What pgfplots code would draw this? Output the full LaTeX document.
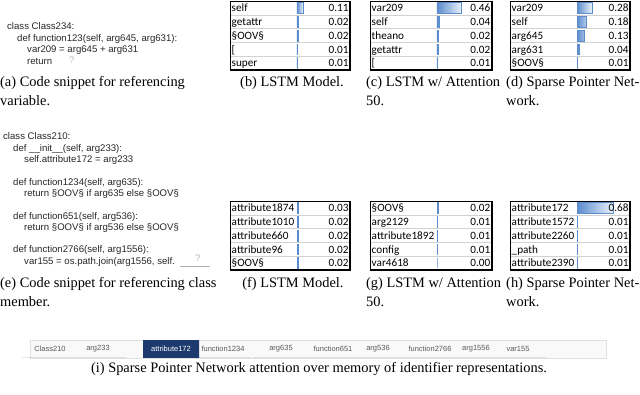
\documentclass[border=0pt]{standalone}
\usepackage{pgfplots}
\pgfplotsset{compat=1.18}
\usepackage{fontspec}
\setmainfont{Liberation Serif}
\newfontfamily\codefont{Liberation Sans}
\newfontfamily\calfont{Carlito}
\definecolor{barblue}{RGB}{91,140,205}
\definecolor{navy}{RGB}{28,58,110}
\pgfplotsset{
  tbl/.style={
    scale only axis, anchor=north west,
    height=69pt,
    ymin=0.5, ymax=5.5,
    xtick=\empty,
    ytick={1.5,2.5,3.5,4.5}, yticklabels={},
    major tick length=0pt,
    ymajorgrids, grid style={gray!35, line width=0.4pt},
    axis line style={black, line width=0.7pt},
    xbar, bar width=0.78,
    clip=false,
  },
  databar/.style={draw=barblue, left color=barblue, right color=barblue!12, line width=0.5pt},
}
\tikzset{
  nm/.style={anchor=base west, inner sep=0pt, yshift=-3.8pt, font=\calfont\fontsize{11.2}{13}\selectfont},
  vl/.style={anchor=base east, inner sep=0pt, yshift=-3.8pt, font=\calfont\fontsize{11.2}{13}\selectfont},
  captl/.style={anchor=base west, inner sep=0pt, font=\fontsize{14.4}{16}\selectfont},
  captc/.style={anchor=base, inner sep=0pt, font=\fontsize{14.4}{16}\selectfont},
  codeln/.style={anchor=base west, inner sep=0pt, font=\codefont\fontsize{9.6}{11}\selectfont, text=black!85},
  stripl/.style={anchor=center, inner sep=0pt, font=\codefont\fontsize{7.5}{9}\selectfont, text=black!65},
}
\begin{document}
\begin{tikzpicture}[x=1pt,y=-1pt]
\useasboundingbox (0,0) rectangle (640,395);

% ---------- (a) code snippet
\node[codeln] at (7,30) {class Class234:};
\node[codeln] at (17,41.4) {def function123(self, arg645, arg631):};
\node[codeln] at (27,52.8) {var209 = arg645 + arg631};
\node[codeln] at (27,64.2) {return};
\node[codeln, text=gray!55] at (69,63.5) {?};
\node[captl] at (0,87) {(a) Code snippet for referencing};
\node[captl] at (0,105.5) {variable.};

% ---------- (b) LSTM Model
\begin{axis}[tbl, at={(230pt,-1pt)}, width=120pt, xmin=-1.264, xmax=1]
\addplot[databar] coordinates {(0.11,5) (0.02,4) (0.02,3) (0.01,2) (0.01,1)};
\node[nm] at (axis cs:-1.235,5) {self};
\node[nm] at (axis cs:-1.235,4) {getattr};
\node[nm] at (axis cs:-1.235,3) {§OOV§};
\node[nm] at (axis cs:-1.235,2) {[};
\node[nm] at (axis cs:-1.235,1) {super};
\node[vl] at (axis cs:0.975,5) {0.11};
\node[vl] at (axis cs:0.975,4) {0.02};
\node[vl] at (axis cs:0.975,3) {0.02};
\node[vl] at (axis cs:0.975,2) {0.01};
\node[vl] at (axis cs:0.975,1) {0.01};
\draw[line width=1.5pt] (rel axis cs:0,0) -- (rel axis cs:1,0) -- (rel axis cs:1,1);
\end{axis}
\node[captc] at (292,87) {(b) LSTM Model.};

% ---------- (c) LSTM w/ Attention 50
\begin{axis}[tbl, at={(370pt,-1pt)}, width=122pt, xmin=-1.264, xmax=1.038]
\addplot[databar] coordinates {(0.46,5) (0.04,4) (0.02,3) (0.02,2) (0.01,1)};
\node[nm] at (axis cs:-1.235,5) {var209};
\node[nm] at (axis cs:-1.235,4) {self};
\node[nm] at (axis cs:-1.235,3) {theano};
\node[nm] at (axis cs:-1.235,2) {getattr};
\node[nm] at (axis cs:-1.235,1) {[};
\node[vl] at (axis cs:1.01,5) {0.46};
\node[vl] at (axis cs:1.01,4) {0.04};
\node[vl] at (axis cs:1.01,3) {0.02};
\node[vl] at (axis cs:1.01,2) {0.02};
\node[vl] at (axis cs:1.01,1) {0.01};
\draw[line width=1.5pt] (rel axis cs:0,0) -- (rel axis cs:1,0) -- (rel axis cs:1,1);
\end{axis}
\node[captl] at (366,87) {(c) LSTM w/ Attention};
\node[captl] at (366,105.5) {50.};

% ---------- (d) Sparse Pointer Network
\begin{axis}[tbl, at={(510pt,-1pt)}, width=120pt, xmin=-1.264, xmax=1]
\addplot[databar] coordinates {(0.28,5) (0.18,4) (0.13,3) (0.04,2) (0.01,1)};
\node[nm] at (axis cs:-1.235,5) {var209};
\node[nm] at (axis cs:-1.235,4) {self};
\node[nm] at (axis cs:-1.235,3) {arg645};
\node[nm] at (axis cs:-1.235,2) {arg631};
\node[nm] at (axis cs:-1.235,1) {§OOV§};
\node[vl] at (axis cs:0.975,5) {0.28};
\node[vl] at (axis cs:0.975,4) {0.18};
\node[vl] at (axis cs:0.975,3) {0.13};
\node[vl] at (axis cs:0.975,2) {0.04};
\node[vl] at (axis cs:0.975,1) {0.01};
\draw[line width=1.5pt] (rel axis cs:0,0) -- (rel axis cs:1,0) -- (rel axis cs:1,1);
\end{axis}
\node[captl] at (506,87) {(d) Sparse Pointer Net-};
\node[captl] at (506,105.5) {work.};

% ---------- (e) code snippet
\node[codeln] at (3,140) {class Class210:};
\node[codeln] at (13,151.3) {def \_\_init\_\_(self, arg233):};
\node[codeln] at (24,162.6) {self.attribute172 = arg233};
\node[codeln] at (13,185.2) {def function1234(self, arg635):};
\node[codeln] at (24,196.5) {return §OOV§ if arg635 else §OOV§};
\node[codeln] at (13,219.1) {def function651(self, arg536):};
\node[codeln] at (24,230.4) {return §OOV§ if arg536 else §OOV§};
\node[codeln] at (13,253) {def function2766(self, arg1556):};
\node[codeln] at (24,264.3) {var155 = os.path.join(arg1556, self.};
\draw[gray!60, line width=0.5pt] (180,266) -- (210,266);
\node[codeln, text=gray!55] at (195,262) {?};
\node[captl] at (0,288) {(e) Code snippet for referencing class};
\node[captl] at (0,306.5) {member.};

% ---------- (f) LSTM Model
\begin{axis}[tbl, at={(230pt,-201pt)}, width=120pt, xmin=-1.264, xmax=1]
\addplot[databar] coordinates {(0.03,5) (0.02,4) (0.02,3) (0.02,2) (0.02,1)};
\node[nm] at (axis cs:-1.235,5) {attribute1874};
\node[nm] at (axis cs:-1.235,4) {attribute1010};
\node[nm] at (axis cs:-1.235,3) {attribute660};
\node[nm] at (axis cs:-1.235,2) {attribute96};
\node[nm] at (axis cs:-1.235,1) {§OOV§};
\node[vl] at (axis cs:0.975,5) {0.03};
\node[vl] at (axis cs:0.975,4) {0.02};
\node[vl] at (axis cs:0.975,3) {0.02};
\node[vl] at (axis cs:0.975,2) {0.02};
\node[vl] at (axis cs:0.975,1) {0.02};
\draw[line width=1.5pt] (rel axis cs:0,0) -- (rel axis cs:1,0) -- (rel axis cs:1,1);
\end{axis}
\node[captc] at (293,288) {(f) LSTM Model.};

% ---------- (g) LSTM w/ Attention 50
\begin{axis}[tbl, at={(370pt,-201pt)}, width=122pt, xmin=-1.264, xmax=1.038]
\addplot[databar] coordinates {(0.02,5) (0.006,4) (0.006,3) (0.006,2) (0.0,1)};
\node[nm] at (axis cs:-1.235,5) {§OOV§};
\node[nm] at (axis cs:-1.235,4) {arg2129};
\node[nm] at (axis cs:-1.235,3) {attribute1892};
\node[nm] at (axis cs:-1.235,2) {config};
\node[nm] at (axis cs:-1.235,1) {var4618};
\node[vl] at (axis cs:1.01,5) {0.02};
\node[vl] at (axis cs:1.01,4) {0.01};
\node[vl] at (axis cs:1.01,3) {0.01};
\node[vl] at (axis cs:1.01,2) {0.01};
\node[vl] at (axis cs:1.01,1) {0.00};
\draw[line width=1.5pt] (rel axis cs:0,0) -- (rel axis cs:1,0) -- (rel axis cs:1,1);
\end{axis}
\node[captl] at (366,288) {(g) LSTM w/ Attention};
\node[captl] at (366,306.5) {50.};

% ---------- (h) Sparse Pointer Network
\begin{axis}[tbl, at={(510pt,-201pt)}, width=120pt, xmin=-1.264, xmax=1]
\addplot[databar] coordinates {(0.68,5) (0.012,4) (0.012,3) (0.005,2) (0.005,1)};
\node[nm] at (axis cs:-1.235,5) {attribute172};
\node[nm] at (axis cs:-1.235,4) {attribute1572};
\node[nm] at (axis cs:-1.235,3) {attribute2260};
\node[nm] at (axis cs:-1.235,2) {\_path};
\node[nm] at (axis cs:-1.235,1) {attribute2390};
\node[vl] at (axis cs:0.975,5) {0.68};
\node[vl] at (axis cs:0.975,4) {0.01};
\node[vl] at (axis cs:0.975,3) {0.01};
\node[vl] at (axis cs:0.975,2) {0.01};
\node[vl] at (axis cs:0.975,1) {0.01};
\draw[line width=1.5pt] (rel axis cs:0,0) -- (rel axis cs:1,0) -- (rel axis cs:1,1);
\end{axis}
\node[captl] at (506,288) {(h) Sparse Pointer Net-};
\node[captl] at (506,306.5) {work.};

% ---------- (i) attention strip
\begin{axis}[scale only axis, anchor=north west, at={(30pt,-340pt)}, width=576pt, height=18pt,
  xmin=30, xmax=606, ymin=0, ymax=1,
  axis background/.style={fill=gray!5}, axis line style={gray!25, line width=0.4pt},
  xtick=\empty, ytick=\empty, ybar, bar width=56, clip=false]
\addplot[fill=navy, draw=none] coordinates {(50,0) (98,0) (171,1) (223,0) (281,0) (333,0) (378,0) (430,0) (476,0) (518,0)};
\node[stripl] at (axis cs:50,0.5) {Class210};
\node[stripl] at (axis cs:98,0.5) {arg233};
\node[stripl, text=white] at (axis cs:171,0.5) {attribute172};
\node[stripl] at (axis cs:223,0.5) {function1234};
\node[stripl] at (axis cs:281,0.5) {arg635};
\node[stripl] at (axis cs:333,0.5) {function651};
\node[stripl] at (axis cs:378,0.5) {arg536};
\node[stripl] at (axis cs:430,0.5) {function2766};
\node[stripl] at (axis cs:476,0.5) {arg1556};
\node[stripl] at (axis cs:518,0.5) {var155};
\end{axis}
\node[captc] at (319,372) {(i) Sparse Pointer Network attention over memory of identifier representations.};
\end{tikzpicture}
\end{document}
